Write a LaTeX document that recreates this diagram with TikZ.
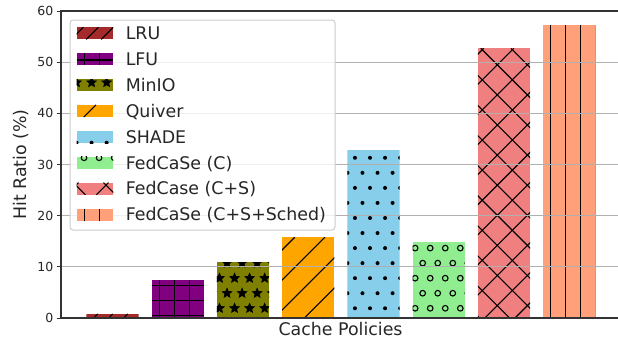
\documentclass[tikz,border=0pt]{standalone}
\usepackage{fontspec}
\setmainfont{DejaVu Sans}

\definecolor{barLRU}{HTML}{A52A2A}
\definecolor{barLFU}{HTML}{800080}
\definecolor{barMinIO}{HTML}{808000}
\definecolor{barQuiver}{HTML}{FFA500}
\definecolor{barSHADE}{HTML}{87CEEB}
\definecolor{barFedC}{HTML}{90EE90}
\definecolor{barFedCS}{HTML}{F08080}
\definecolor{barSched}{HTML}{FFA07A}
\definecolor{gridc}{HTML}{B0B0B0}
\definecolor{framec}{HTML}{CCCCCC}

% hatch lattice (all patterns share one global grid)
\def\hatchp{15.05}   % cell pitch
\def\hatchx{8.8}     % x phase of vertical lines and shape columns
\def\hatchy{285.7}   % y phase of horizontal lines
\def\hatchr{278.175} % y phase of shape rows
\def\hatchne{532}    % phase of x+y for "/" lines
\def\hatchnw{11.1}   % phase of x-y for "\" lines

\tikzset{
  hatchln/.style={black, line width=1.1pt},
  gridln/.style={gridc, line width=1pt},
  spine/.style={black!80, line width=1.1pt},
  ticklab/.style={font=\fontsize{12.5}{14}\selectfont, inner sep=0pt, text=black!85},
  axlab/.style={font=\fontsize{17.4}{20}\selectfont, inner sep=0pt, text=black!85},
  leglab/.style={font=\fontsize{17.4}{20}\selectfont, inner sep=0pt, anchor=base west, text=black!85},
}

% vertical lines
\newcommand\hatchV[4]{%
  \pgfmathtruncatemacro\hkA{floor(((#1)-\hatchx)/\hatchp)}%
  \pgfmathtruncatemacro\hkB{ceil(((#3)-\hatchx)/\hatchp)}%
  \foreach \hk in {\hkA,...,\hkB}{%
    \draw[hatchln] ({\hatchx+\hk*\hatchp},{#2}) -- ({\hatchx+\hk*\hatchp},{#4});}}
% horizontal lines
\newcommand\hatchH[4]{%
  \pgfmathtruncatemacro\hkA{floor(((#2)-\hatchy)/\hatchp)}%
  \pgfmathtruncatemacro\hkB{ceil(((#4)-\hatchy)/\hatchp)}%
  \foreach \hk in {\hkA,...,\hkB}{%
    \draw[hatchln] ({#1},{\hatchy+\hk*\hatchp}) -- ({#3},{\hatchy+\hk*\hatchp});}}
% rising diagonals, spacing #5
\newcommand\hatchNE[5]{%
  \pgfmathtruncatemacro\hkA{floor(((#1)+(#2)-\hatchne)/(#5))}%
  \pgfmathtruncatemacro\hkB{ceil(((#3)+(#4)-\hatchne)/(#5))}%
  \foreach \hk in {\hkA,...,\hkB}{%
    \pgfmathsetmacro\hc{\hatchne+\hk*(#5)}%
    \draw[hatchln] ({\hc-(#2)},{#2}) -- ({\hc-(#4)},{#4});}}
% falling diagonals, spacing #5
\newcommand\hatchNW[5]{%
  \pgfmathtruncatemacro\hkA{floor(((#1)-(#4)-\hatchnw)/(#5))}%
  \pgfmathtruncatemacro\hkB{ceil(((#3)-(#2)-\hatchnw)/(#5))}%
  \foreach \hk in {\hkA,...,\hkB}{%
    \pgfmathsetmacro\hc{\hatchnw+\hk*(#5)}%
    \draw[hatchln] ({\hc+(#2)},{#2}) -- ({\hc+(#4)},{#4});}}
% staggered shapes; #5 draws one shape at (\hsx,\hsy)
\newcommand\hatchShapes[5]{%
  \pgfmathtruncatemacro\hkA{floor(((#1)-\hatchx)/\hatchp)-1}%
  \pgfmathtruncatemacro\hkB{ceil(((#3)-\hatchx)/\hatchp)+1}%
  \pgfmathtruncatemacro\hjA{floor(((#2)-\hatchr)/\hatchp)-1}%
  \pgfmathtruncatemacro\hjB{ceil(((#4)-\hatchr)/\hatchp)+1}%
  \foreach \hj in {\hjA,...,\hjB}{%
    \pgfmathsetmacro\hsy{\hatchr+\hj*\hatchp}%
    \pgfmathsetmacro\hsh{mod(abs(\hj),2)*\hatchp/2}%
    \foreach \hk in {\hkA,...,\hkB}{%
      \pgfmathsetmacro\hsx{\hatchx+\hk*\hatchp+\hsh}%
      #5}}}

\newcommand\dotshape{\fill[black] (\hsx,\hsy) circle[radius=2];}
\newcommand\ringshape{\draw[black, line width=1.1pt] (\hsx,\hsy) circle[radius=2.8];}
\newcommand\starshape{\filldraw[black, line width=0.6pt, line join=miter]
  (\hsx,\hsy) +(270:5) -- +(306:2.3) -- +(342:5) -- +(18:2.3) -- +(54:5)
  -- +(90:2.3) -- +(126:5) -- +(162:2.3) -- +(198:5) -- +(234:2.3) -- cycle;}

\newcommand\patLRU[4]{\hatchNE{#1}{#2}{#3}{#4}{\hatchp}}
\newcommand\patLFU[4]{\hatchV{#1}{#2}{#3}{#4}\hatchH{#1}{#2}{#3}{#4}}
\newcommand\patMinIO[4]{\hatchShapes{#1}{#2}{#3}{#4}{\starshape}}
\newcommand\patQuiver[4]{\hatchNE{#1}{#2}{#3}{#4}{30.1}}
\newcommand\patSHADE[4]{\hatchShapes{#1}{#2}{#3}{#4}{\dotshape}}
\newcommand\patFedC[4]{\hatchShapes{#1}{#2}{#3}{#4}{\ringshape}}
\newcommand\patFedCS[4]{\hatchNE{#1}{#2}{#3}{#4}{30.1}\hatchNW{#1}{#2}{#3}{#4}{30.1}}
\newcommand\patSched[4]{\hatchV{#1}{#2}{#3}{#4}}

% filled, hatched rectangle: x1 y1 x2 y2 colour pattern
\newcommand\patchbox[6]{%
  \begin{scope}
    \clip ({#1},{#2}) rectangle ({#3},{#4});
    \fill[fill=#5] ({#1},{#2}) rectangle ({#3},{#4});
    #6{#1}{#2}{#3}{#4}
  \end{scope}}

\begin{document}
\begin{tikzpicture}[x=1pt, y=-1pt]
\useasboundingbox (0,0) rectangle (618,341);

% bars: index / value / colour / pattern  (y = 318 - v*5.1167)
\foreach \bi/\bv/\bc/\bp in {0/0.8/barLRU/\patLRU, 1/7.4/barLFU/\patLFU,
    2/10.9/barMinIO/\patMinIO, 3/15.8/barQuiver/\patQuiver, 4/32.8/barSHADE/\patSHADE,
    5/14.8/barFedC/\patFedC, 6/52.7/barFedCS/\patFedCS, 7/57.2/barSched/\patSched}{
  \pgfmathsetmacro\bxA{112.5+\bi*65.25-26.1}
  \pgfmathsetmacro\bxB{112.5+\bi*65.25+26.1}
  \pgfmathsetmacro\byT{318-\bv*5.1167}
  \patchbox{\bxA}{\byT}{\bxB}{318}{\bc}{\bp}
}

% horizontal grid lines
\foreach \gv in {10,20,30,40,50}{
  \draw[gridln] (61,{318-\gv*5.1167}) -- (618,{318-\gv*5.1167});
}

% spines
\draw[spine] (618,11) -- (61,11) -- (61,318) -- (618,318);

% y ticks and labels
\foreach \tv in {0,10,20,30,40,50,60}{
  \pgfmathsetmacro\ty{318-\tv*5.1167}
  \draw[black!80, line width=1pt] (56.5,\ty) -- (61,\ty);
  \node[ticklab, anchor=base east] (ytick\tv) at (53.5,{\ty+4.6}) {\tv};
}

% axis labels
\node[axlab, rotate=90] (ylab) at (21.5,164.5) {Hit Ratio (\%)};
\node[axlab, anchor=base] (xlab) at (340.5,335.3) {Cache Policies};

% legend
\draw[framec, line width=1pt, fill=white, fill opacity=0.8, rounded corners=3pt]
  (70,20) rectangle (335,230);
\foreach \ltxt/\lc/\lp [count=\li from 0] in {LRU/barLRU/\patLRU, LFU/barLFU/\patLFU,
    MinIO/barMinIO/\patMinIO, Quiver/barQuiver/\patQuiver, SHADE/barSHADE/\patSHADE,
    FedCaSe (C)/barFedC/\patFedC, FedCase (C+S)/barFedCS/\patFedCS,
    FedCaSe (C+S+Sched)/barSched/\patSched}{
  \pgfmathsetmacro\lyc{33.3+25.9*\li}
  \pgfmathsetmacro\lyA{\lyc-6.1}
  \pgfmathsetmacro\lyB{\lyc+6.1}
  \patchbox{76.7}{\lyA}{113.3}{\lyB}{\lc}{\lp}
  \node[leglab] (leg\li) at (125.6,{\lyc+6.2}) {\ltxt};
}
\end{tikzpicture}
\end{document}
